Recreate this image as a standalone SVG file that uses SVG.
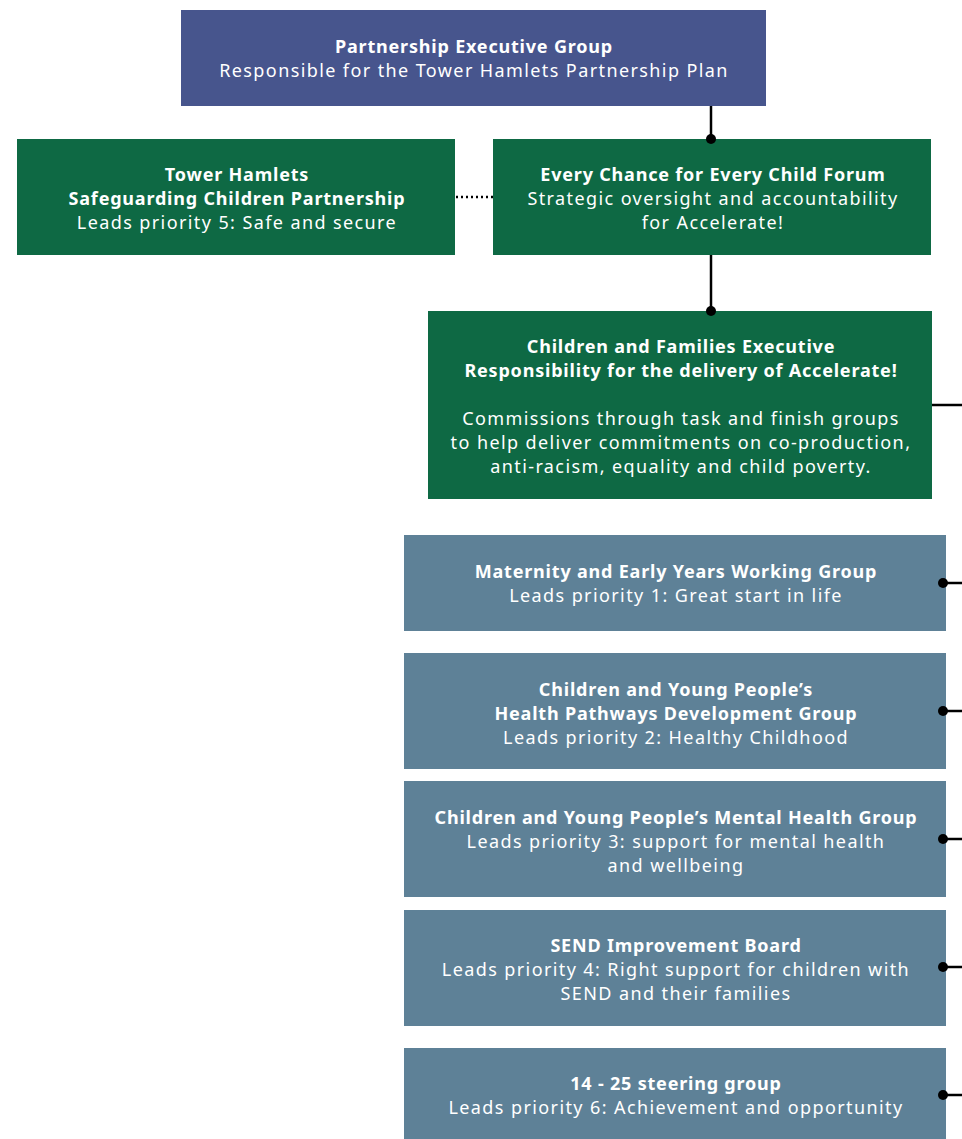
<svg xmlns="http://www.w3.org/2000/svg" width="962" height="1139" viewBox="0 0 962 1139">
<style>
text{font-family:"Noto Sans","Open Sans","Liberation Sans",sans-serif;font-size:18px;fill:#ffffff;text-anchor:middle;letter-spacing:1.4px}
.b{font-weight:bold;letter-spacing:0.8px}
.purple{fill:#47558d}
.green{fill:#0e6944}
.blue{fill:#5e8197}
.ln{stroke:#000;stroke-width:2.5;fill:none}
.dot{fill:#000}
</style>
<rect width="962" height="1139" fill="#ffffff"/>
<g id="peg">
<rect class="purple" x="181" y="10" width="585" height="96"/>
<text class="b" x="474" y="53">Partnership Executive Group</text>
<text x="474" y="77">Responsible for the Tower Hamlets Partnership Plan</text>
</g>
<g id="thscp">
<rect class="green" x="17" y="139" width="438" height="116"/>
<text class="b" x="237" y="181">Tower Hamlets</text>
<text class="b" x="237" y="205">Safeguarding Children Partnership</text>
<text x="237" y="229">Leads priority 5: Safe and secure</text>
</g>
<g id="ecfec">
<rect class="green" x="493" y="139" width="438" height="116"/>
<text class="b" x="713" y="181">Every Chance for Every Child Forum</text>
<text x="713" y="205">Strategic oversight and accountability</text>
<text x="713" y="229">for Accelerate!</text>
</g>
<g id="cfe">
<rect class="green" x="428" y="311" width="504" height="188"/>
<text class="b" x="681" y="353">Children and Families Executive</text>
<text class="b" x="681" y="377">Responsibility for the delivery of Accelerate!</text>
<text x="681" y="425">Commissions through task and finish groups</text>
<text x="681" y="449">to help deliver commitments on co-production,</text>
<text x="681" y="473">anti-racism, equality and child poverty.</text>
</g>
<g id="maternity">
<rect class="blue" x="404" y="535" width="542" height="96"/>
<text class="b" x="676" y="578">Maternity and Early Years Working Group</text>
<text x="676" y="602">Leads priority 1: Great start in life</text>
</g>
<g id="health">
<rect class="blue" x="404" y="653" width="542" height="116"/>
<text class="b" x="676" y="696">Children and Young People’s</text>
<text class="b" x="676" y="720">Health Pathways Development Group</text>
<text x="676" y="744">Leads priority 2: Healthy Childhood</text>
</g>
<g id="mental">
<rect class="blue" x="404" y="781" width="542" height="116"/>
<text class="b" x="676" y="824">Children and Young People’s Mental Health Group</text>
<text x="676" y="848">Leads priority 3: support for mental health</text>
<text x="676" y="872">and wellbeing</text>
</g>
<g id="send">
<rect class="blue" x="404" y="910" width="542" height="116"/>
<text class="b" x="676" y="952">SEND Improvement Board</text>
<text x="676" y="976">Leads priority 4: Right support for children with</text>
<text x="676" y="1000">SEND and their families</text>
</g>
<g id="steering">
<rect class="blue" x="404" y="1048" width="542" height="91"/>
<text class="b" x="676" y="1090">14 - 25 steering group</text>
<text x="676" y="1114">Leads priority 6: Achievement and opportunity</text>
</g>
<g id="connectors">
<line class="ln" x1="711" y1="106" x2="711" y2="139"/>
<circle class="dot" cx="711" cy="139" r="5"/>
<line class="ln" x1="711" y1="255" x2="711" y2="311"/>
<circle class="dot" cx="711" cy="311" r="5"/>
<line x1="456" y1="197" x2="493" y2="197" stroke="#000" stroke-width="2.5" stroke-dasharray="2,3"/>
<line class="ln" x1="932" y1="405" x2="962" y2="405"/>
<line class="ln" x1="943" y1="583" x2="962" y2="583"/>
<circle class="dot" cx="943" cy="583" r="5"/>
<line class="ln" x1="943" y1="711" x2="962" y2="711"/>
<circle class="dot" cx="943" cy="711" r="5"/>
<line class="ln" x1="943" y1="839" x2="962" y2="839"/>
<circle class="dot" cx="943" cy="839" r="5"/>
<line class="ln" x1="943" y1="967" x2="962" y2="967"/>
<circle class="dot" cx="943" cy="967" r="5"/>
<line class="ln" x1="943" y1="1095" x2="962" y2="1095"/>
<circle class="dot" cx="943" cy="1095" r="5"/>
</g>
</svg>
